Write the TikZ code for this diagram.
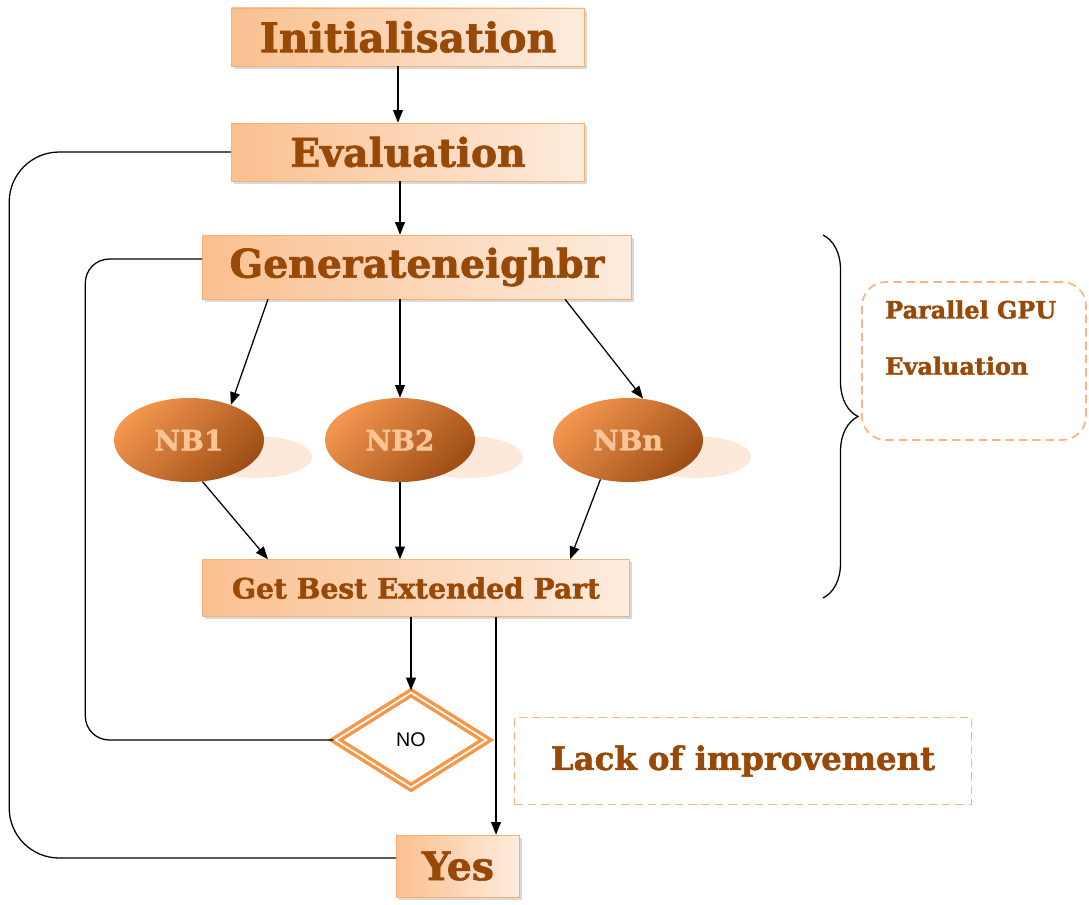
\documentclass[tikz,border=0pt]{standalone}
\usepackage{fontspec}
\setmainfont{DejaVu Serif}[BoldFeatures={FakeBold=1.6}]
\newfontfamily\nofont{Liberation Sans}
\usetikzlibrary{positioning,arrows.meta,shapes.geometric,shadows,decorations.pathreplacing}
\definecolor{txtbrown}{RGB}{152,72,7}
\definecolor{boxline}{RGB}{247,175,120}
\definecolor{boxleft}{RGB}{250,192,144}
\definecolor{boxright}{RGB}{253,236,222}
\definecolor{nbtop}{RGB}{243,150,78}
\definecolor{nbbot}{RGB}{158,78,22}
\definecolor{nbtext}{RGB}{250,196,150}
\definecolor{shadowpeach}{RGB}{253,233,217}
\definecolor{diaorange}{RGB}{247,150,70}
\definecolor{dashorange}{RGB}{250,180,130}

\begin{document}
\begin{tikzpicture}[x=0.025cm, y=-0.025cm,
  box/.style={draw=boxline, left color=boxleft, right color=boxright,
              drop shadow={shadow xshift=2pt, shadow yshift=-2pt, opacity=0.3},
              text=txtbrown, inner sep=0pt, minimum width=8.825cm, minimum height=1.45cm,
              font=\fontsize{28}{30}\selectfont\bfseries},
  nb/.style={ellipse, top color=nbtop, bottom color=nbbot, shading angle=45,
             minimum width=3.75cm, minimum height=2.1cm, inner sep=0pt,
             text=nbtext, font=\fontsize{20}{24}\selectfont\bfseries},
  nbshade/.style={ellipse, fill=shadowpeach, minimum width=2.8cm, minimum height=1.05cm},
  dashbox/.style={draw=dashorange, dash pattern=on 6pt off 3.5pt, line width=1.2pt, text=txtbrown},
  arr/.style={-{Triangle[length=9pt,width=7pt]}, line width=0.9pt},
  loop/.style={line width=0.9pt, rounded corners=0.6cm}
]
\useasboundingbox (0,0) rectangle (1089,904);

% Main boxes
\node[box, font=\fontsize{29}{30}\selectfont\bfseries] (init) at (408,37) {Initialisation};
\node[box] (eval) at (408,152) {Evaluation};
\node[box, minimum width=10.725cm, minimum height=1.6cm] (gen) at (417,267) {Generateneighbr};

% Neighbours
\node[nbshade] (nb1shadow) at (256,457) {};
\node[nbshade] (nb2shadow) at (467,457) {};
\node[nbshade] (nbnshadow) at (695,457) {};
\node[nb] (nb1) at (189,440) {NB1};
\node[nb] (nb2) at (400,440) {NB2};
\node[nb] (nbn) at (628,440) {NBn};

\node[box, minimum width=10.675cm, minimum height=1.425cm,
      font=\fontsize{20}{24}\selectfont\bfseries] (best) at (416,588) {Get Best Extended Part\hspace{0.6cm}};

% Decision
\node[diamond, draw=diaorange, double=white, line width=2.4pt, double distance=1.2pt,
      minimum width=3.8cm, minimum height=2.4cm, inner sep=0pt,
      font=\nofont\fontsize{14}{16}\selectfont] (no) at (411,740) {NO};
\node[dashbox, minimum width=11.425cm, minimum height=2.175cm,
      font=\fontsize{23}{26}\selectfont\bfseries] (lack) at (743,761) {Lack of improvement};
\node[box, minimum width=3.075cm, minimum height=1.55cm] (yes) at (458,866) {Yes};

% Parallel part
\node[dashbox, rounded corners=0.6cm, minimum width=5.6cm, minimum height=3.95cm] (gpu) at (974,361) {};
\node[anchor=north west, align=left, inner sep=0pt, text=txtbrown,
      font=\fontsize{17}{40}\selectfont\bfseries] (gputxt) at (885,300) {Parallel GPU\\Evaluation};
\draw[decorate, decoration={brace, amplitude=0.875cm}, line width=0.9pt] (823,235) -- (823,598);

% Arrows
\draw[arr] ([xshift=-0.25cm]init.south) -- ([xshift=-0.25cm]eval.north);
\draw[arr] ([xshift=-0.2cm]eval.south) -- ([xshift=-0.2cm]eval.south |- gen.north);
\draw[arr] ([xshift=-3.725cm]gen.south) -- (nb1.40);
\draw[arr] (gen.south -| nb2.north) -- (nb2.north);
\draw[arr] ([xshift=3.7cm]gen.south) -- (nbn.70);
\draw[arr] (nb1.-72) -- ([xshift=-3.7cm]best.north);
\draw[arr] (nb2.south) -- (nb2.south |- best.north);
\draw[arr] (nbn.-125) -- ([xshift=3.85cm]best.north);
\draw[arr] (best.south -| no.north) -- (no.north);
\draw[arr] ([xshift=2cm]best.south) -- ([xshift=2cm]best.south |- yes.north);

% Loops back
\draw[loop] (no.west) -- ++(-248,0) |- ([yshift=0.2cm]gen.west);
\draw[loop, rounded corners=1.25cm] ([yshift=0.2cm]yes.west) -- ++(-387,0) |- (eval.west);

\end{tikzpicture}
\end{document}
